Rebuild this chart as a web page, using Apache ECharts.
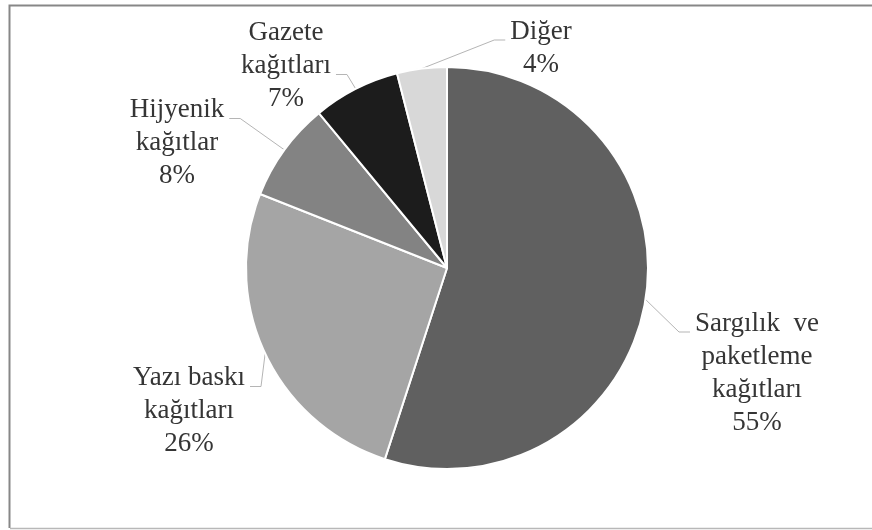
<!DOCTYPE html>
<html>
<head>
<meta charset="utf-8">
<script src="https://cdn.jsdelivr.net/npm/echarts@6/dist/echarts.min.js"></script>
<style>
  html, body { margin: 0; padding: 0; background: #fff; }
  #chart { width: 872px; height: 530px; }
</style>
</head>
<body>
<div id="chart"></div>
<script>
// Paper consumption by type (share, %)
const categories = [
  'Sargılık  ve\npaketleme\nkağıtları',
  'Yazı baskı\nkağıtları',
  'Hijyenik\nkağıtlar',
  'Gazete\nkağıtları',
  'Diğer'
];
const shares = [55, 26, 8, 7, 4];
const sliceColors = ['#606060', '#a5a5a5', '#838383', '#1c1c1c', '#d8d8d8'];

// Label block centres (pixels) and the text line the leader attaches to
const labelSpots = [
  [757, 373],
  [189, 411],
  [177, 143],
  [286, 66],
  [541, 48]
];
const leaderLine = [0, 0, 0, 1, 0];

const FONT_SIZE = 27;
const LINE_H = 33;
const GAP = 5;      // space between leader end and text
const ELBOW = 11;   // horizontal run of the leader next to the text

const chart = echarts.init(document.getElementById('chart'), null, { renderer: 'canvas' });

chart.setOption({
  backgroundColor: '#ffffff',
  animation: false,
  graphic: [
    {
      type: 'polyline',
      shape: { points: [[9.5, 528], [9.5, 5.5], [872, 5.5]] },
      style: { fill: 'none', stroke: '#878787', lineWidth: 2 },
      silent: true
    },
    {
      type: 'line',
      shape: { x1: 10, y1: 528.5, x2: 872, y2: 528.5 },
      style: { stroke: '#b8b8b8', lineWidth: 1.5 },
      silent: true
    }
  ],
  series: [{
    type: 'pie',
    center: [447, 268],
    radius: 201,
    startAngle: 90,
    clockwise: true,
    data: categories.map((name, i) => ({
      name: name,
      value: shares[i],
      itemStyle: { color: sliceColors[i] }
    })),
    itemStyle: { borderColor: '#ffffff', borderWidth: 2 },
    label: {
      show: true,
      position: 'outside',
      formatter: '{b}\n{d}%',
      fontFamily: '"Liberation Serif", "Times New Roman", serif',
      fontSize: FONT_SIZE,
      lineHeight: LINE_H,
      color: '#353535',
      align: 'center'
    },
    labelLine: {
      show: true,
      lineStyle: { color: '#b5b5b5', width: 1 }
    },
    labelLayout: function (params) {
      const i = params.dataIndex;
      const c = labelSpots[i];
      const w = params.labelRect.width;
      const h = params.labelRect.height;
      const top = c[1] - h / 2;
      const start = params.labelLinePoints[0];
      const toRight = c[0] > start[0];
      const attachY = top + leaderLine[i] * LINE_H + 25;
      const endX = toRight ? c[0] - w / 2 - GAP : c[0] + w / 2 + GAP;
      const elbowX = toRight ? endX - ELBOW : endX + ELBOW;
      return {
        x: c[0],
        y: c[1],
        align: 'center',
        verticalAlign: 'middle',
        labelLinePoints: [start, [elbowX, attachY], [endX, attachY]]
      };
    },
    emphasis: { disabled: true }
  }]
});
</script>
</body>
</html>
